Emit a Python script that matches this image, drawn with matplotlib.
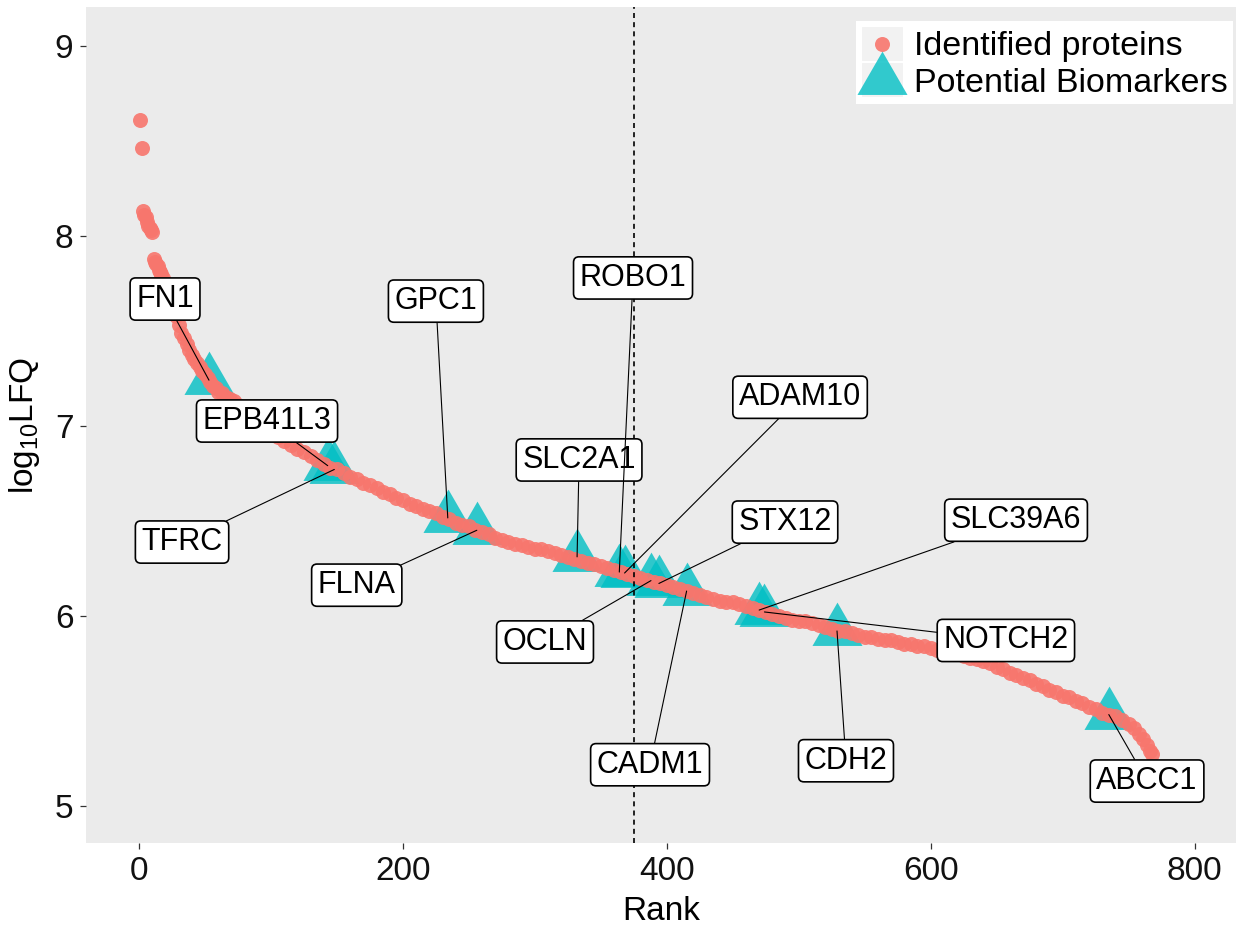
import numpy as np
import matplotlib
matplotlib.use('Agg')
import matplotlib.pyplot as plt
from matplotlib.lines import Line2D
from matplotlib.patches import Rectangle
from matplotlib.legend_handler import HandlerBase

plt.rcParams['font.family'] = ['Liberation Sans', 'DejaVu Sans']

RED = '#F8766D'
CYAN = '#00BFC4'

# все белки: ранг и log10 LFQ
rank = [1, 2, 3, 4, 5, 6, 7, 8, 9, 10, 11, 12, 13, 14, 15, 16, 17, 18, 20, 22,
        24, 26, 28, 30, 32, 34, 36, 38, 40, 42, 44, 46, 48, 50, 52, 54, 56, 58, 60, 63,
        66, 69, 72, 75, 78, 81, 84, 87, 90, 93, 96, 100, 105, 110, 115, 120, 125, 130, 135, 140,
        145, 150, 155, 160, 165, 170, 175, 180, 185, 190, 195, 200, 205, 210, 215, 220, 225, 230, 235, 240,
        245, 250, 255, 260, 265, 270, 275, 280, 285, 290, 295, 300, 305, 310, 315, 320, 325, 330, 335, 340,
        345, 350, 355, 360, 365, 370, 375, 380, 385, 390, 395, 400, 405, 410, 415, 420, 425, 430, 435, 440,
        445, 450, 455, 460, 465, 470, 475, 480, 485, 490, 495, 500, 505, 510, 515, 520, 525, 530, 535, 540,
        545, 550, 555, 560, 565, 570, 575, 580, 585, 590, 595, 600, 605, 610, 615, 620, 625, 630, 635, 640,
        645, 650, 655, 660, 665, 670, 675, 680, 685, 690, 695, 700, 705, 710, 715, 720, 725, 730, 735, 740,
        745, 750, 754, 758, 761, 764, 766, 768]
lfq = [8.61, 8.46, 8.13, 8.11, 8.10, 8.07, 8.05, 8.04, 8.03, 8.02, 7.88, 7.86, 7.85, 7.84, 7.82, 7.81, 7.80, 7.78, 7.74, 7.70,
       7.66, 7.62, 7.58, 7.53, 7.49, 7.46, 7.43, 7.40, 7.37, 7.35, 7.33, 7.31, 7.29, 7.27, 7.25, 7.23, 7.21, 7.20, 7.18, 7.17,
       7.15, 7.14, 7.13, 7.11, 7.09, 7.07, 7.05, 7.03, 7.02, 7.00, 6.98, 6.96, 6.94, 6.92, 6.90, 6.88, 6.86, 6.84, 6.82, 6.80,
       6.78, 6.77, 6.75, 6.73, 6.72, 6.70, 6.69, 6.67, 6.65, 6.64, 6.62, 6.61, 6.59, 6.58, 6.56, 6.55, 6.54, 6.52, 6.51, 6.49,
       6.48, 6.47, 6.45, 6.44, 6.43, 6.41, 6.40, 6.39, 6.38, 6.37, 6.36, 6.35, 6.35, 6.34, 6.33, 6.32, 6.31, 6.30, 6.29, 6.28,
       6.27, 6.26, 6.25, 6.24, 6.23, 6.22, 6.21, 6.20, 6.19, 6.18, 6.17, 6.16, 6.15, 6.14, 6.13, 6.12, 6.11, 6.10, 6.09, 6.08,
       6.07, 6.07, 6.06, 6.05, 6.04, 6.03, 6.02, 6.01, 6.00, 5.99, 5.98, 5.97, 5.97, 5.96, 5.95, 5.94, 5.93, 5.92, 5.92, 5.91,
       5.90, 5.89, 5.89, 5.88, 5.87, 5.87, 5.86, 5.85, 5.85, 5.84, 5.84, 5.83, 5.82, 5.82, 5.81, 5.80, 5.79, 5.78, 5.77, 5.76,
       5.75, 5.73, 5.72, 5.70, 5.69, 5.67, 5.66, 5.64, 5.63, 5.61, 5.60, 5.58, 5.57, 5.55, 5.54, 5.52, 5.51, 5.49, 5.48, 5.47,
       5.45, 5.43, 5.41, 5.38, 5.35, 5.32, 5.29, 5.27]

# потенциальные биомаркеры
genes = ['FN1', 'EPB41L3', 'TFRC', 'GPC1', 'FLNA', 'SLC2A1', 'ROBO1', 'ADAM10',
         'OCLN', 'STX12', 'CADM1', 'SLC39A6', 'NOTCH2', 'CDH2', 'ABCC1']
gene_rank = [53, 143, 148, 234, 256, 332, 364, 368, 388, 394, 415, 470, 474, 529, 735]
gene_lfq = [7.24, 6.79, 6.77, 6.515, 6.45, 6.31, 6.23, 6.225, 6.185, 6.17, 6.13, 6.03, 6.02, 5.92, 5.48]

# где стоят подписи (центр рамки)
label_x = [19.7, 97, 32.6, 225, 165, 333.5, 374.4, 501, 307.7, 489.6, 387.3, 664.7, 657, 535.8, 764]
label_y = [7.667, 7.025, 6.388, 7.656, 6.161, 6.82, 7.778, 7.15, 5.862, 6.493, 5.216, 6.503, 5.87, 5.237, 5.13]

CUTOFF = 375

# равносторонний треугольник как в ggplot (shape 17)
TRI = [(0, 1), (-0.866, -0.5), (0.866, -0.5), (0, 1)]


class KeyWithBackground(HandlerBase):
    def create_artists(self, legend, orig_handle, xdescent, ydescent,
                       width, height, fontsize, trans):
        bg = Rectangle((-xdescent, -ydescent), width, height, facecolor='#F2F2F2',
                       edgecolor='white', lw=1.5, transform=trans)
        mk = Line2D([width / 2 - xdescent], [height / 2 - ydescent],
                    marker=orig_handle.get_marker(), markersize=orig_handle.get_markersize(),
                    color=orig_handle.get_color(), alpha=orig_handle.get_alpha(),
                    markeredgewidth=0, linestyle='')
        mk.set_transform(trans)
        return [bg, mk]


fig = plt.figure(figsize=(12.39, 9.26), dpi=100)
ax = fig.add_axes([86 / 1239, 83 / 926, 1150 / 1239, 836 / 926])
ax.set_facecolor('#EBEBEB')
for s in ax.spines.values():
    s.set_visible(False)

ax.plot(gene_rank, gene_lfq, linestyle='', marker=TRI, markersize=41.6,
        color=CYAN, alpha=0.8, markeredgewidth=0, zorder=2)
ax.plot(rank, lfq, linestyle='', marker='o', markersize=10.8,
        color=RED, alpha=0.9, markeredgewidth=0, zorder=3)

ax.axvline(CUTOFF, color='black', linestyle=(0, (3, 2.5)), lw=1.2, zorder=4)

for g, gx, gy, lx, ly in zip(genes, gene_rank, gene_lfq, label_x, label_y):
    ax.annotate(g, xy=(gx, gy), xytext=(lx, ly), ha='center', va='center',
                fontsize=22, color='black', zorder=6,
                bbox=dict(boxstyle='round,pad=0.2,rounding_size=0.18', fc='white',
                          ec='black', lw=1.2),
                arrowprops=dict(arrowstyle='-', color='black', lw=0.8,
                                shrinkA=0, shrinkB=0))

ax.set_xlim(-40.2, 831.4)
ax.set_ylim(4.804, 9.204)
ax.set_xticks([0, 200, 400, 600, 800])
ax.set_yticks([5, 6, 7, 8, 9])
ax.tick_params(axis='both', length=4.5, width=0.9, color='#333333',
               labelsize=24, labelcolor='#111111', pad=4.5)
ax.set_xlabel('Rank', fontsize=24, color='black', labelpad=7)
ax.set_ylabel(r'$\mathregular{log_{10}}$LFQ', fontsize=24, color='black', labelpad=9)

handles = [Line2D([], [], marker='o', markersize=10.8, color=RED, alpha=0.9, linestyle=''),
           Line2D([], [], marker=TRI, markersize=41.6, color=CYAN, alpha=0.8, linestyle='')]
ax.legend(handles, ['Identified proteins', 'Potential Biomarkers'],
          handler_map={Line2D: KeyWithBackground()},
          loc='upper right', bbox_to_anchor=(1233 / 1239, 1 - 21 / 926),
          bbox_transform=fig.transFigure, borderaxespad=0, frameon=True,
          facecolor='white', edgecolor='none', framealpha=1, fancybox=False,
          fontsize=24.5, handlelength=1.26, handleheight=1.23, labelspacing=0,
          handletextpad=0.3, borderpad=0.15)

fig.savefig('out.png', dpi=100)
